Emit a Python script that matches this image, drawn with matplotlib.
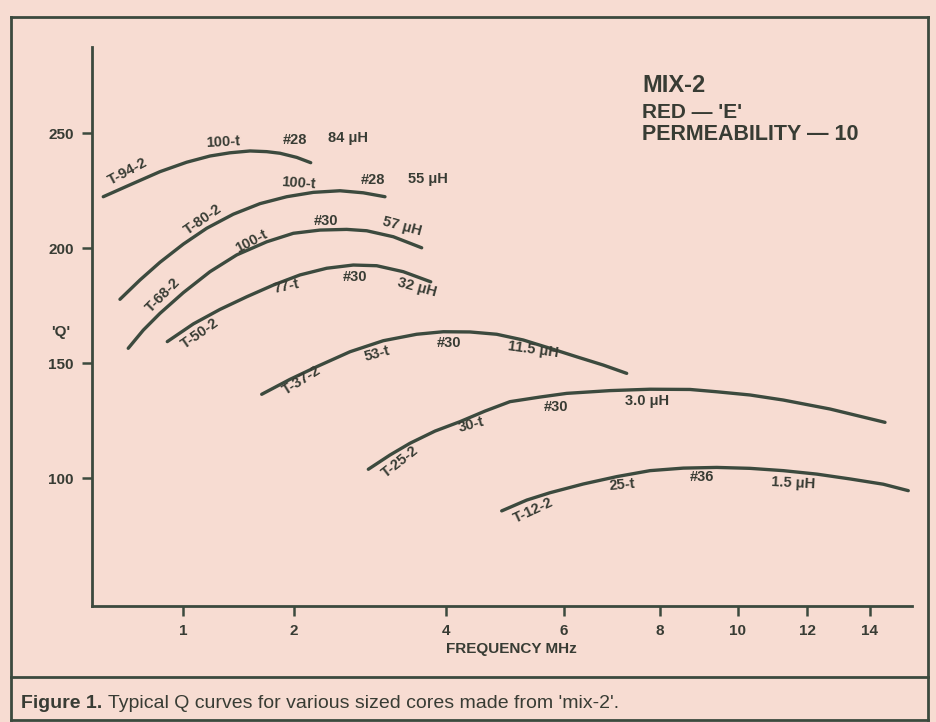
import numpy as np
import matplotlib
matplotlib.use("Agg")
import matplotlib.pyplot as plt
from matplotlib.lines import Line2D

# Q curves for mix-2 toroid cores (frequency in MHz, Q)
t94_f = [0.518, 0.690, 0.861, 1.033, 1.243, 1.423, 1.604, 1.754, 1.874, 2.036, 2.220]
t94_q = [222.3, 227.8, 233.2, 237.3, 240.0, 241.4, 242.2, 241.9, 241.2, 239.4, 237.1]

t80_f = [0.619, 0.740, 0.861, 1.003, 1.214, 1.453, 1.694, 1.934, 2.254, 2.605, 2.912, 3.197]
t80_q = [177.7, 186.1, 193.8, 201.7, 208.6, 214.7, 219.3, 222.3, 224.2, 224.9, 224.0, 222.3]

t68_f = [0.669, 0.760, 0.861, 1.003, 1.243, 1.484, 1.754, 1.994, 2.342, 2.693, 2.957, 3.307, 3.680]
t68_q = [156.4, 164.3, 171.6, 180.6, 189.7, 197.0, 202.7, 206.4, 207.8, 208.1, 207.5, 204.9, 200.1]

t50_f = [0.905, 1.093, 1.333, 1.574, 1.814, 2.079, 2.430, 2.780, 3.088, 3.438, 3.799]
t50_q = [159.3, 167.0, 173.3, 178.8, 183.9, 188.3, 191.2, 192.6, 192.3, 189.7, 185.3]

t37_f = [1.709, 1.964, 2.299, 2.737, 3.175, 3.614, 3.964, 4.407, 4.859, 5.310, 5.763, 6.265, 6.819, 7.306]
t37_q = [136.4, 142.9, 148.4, 154.9, 159.7, 162.5, 163.6, 163.5, 162.5, 160.0, 156.4, 152.7, 149.1, 145.5]

t25_f = [2.978, 3.263, 3.526, 3.855, 4.237, 4.661, 5.085, 5.593, 6.056, 6.958, 7.792, 8.769,
         9.454, 10.348, 11.313, 12.730, 14.475]
t25_q = [103.8, 110.0, 115.1, 120.4, 124.5, 129.1, 133.2, 135.2, 136.8, 138.0, 138.6, 138.5,
         137.5, 136.1, 133.9, 130.0, 124.2]

t12_f = [4.944, 5.368, 5.763, 6.402, 7.098, 7.792, 8.597, 9.454, 10.348, 11.313, 12.308,
         13.365, 14.421, 15.212]
t12_q = [85.7, 90.4, 93.6, 97.4, 100.6, 103.2, 104.3, 104.6, 104.2, 103.2, 101.7, 99.6, 97.3, 94.5]

x_ticks = [1, 2, 4, 6, 8, 10, 12, 14]
y_ticks = [100, 150, 200, 250]

# hand-drawn frequency axis: tick frequencies and where they sit along the axis
scale_f = [0.45, 1, 2, 4, 6, 8, 10, 12, 14, 15.33]
scale_p = [92, 183, 294, 446, 564, 660, 738, 807, 870, 912]


def fwd(f):
    return np.interp(f, scale_f, scale_p)


def inv(p):
    return np.interp(p, scale_p, scale_f)


# (text, freq, Q, rotation)
labels = [
    ("T-94-2", 0.669, 233.2, 28), ("100-t", 1.363, 246.2, 3), ("#28", 2.013, 247.0, 0),
    ("84 \u03bcH", 2.714, 247.7, 0),
    ("T-80-2", 1.183, 212.2, 35), ("100-t", 2.057, 228.1, -4), ("#28", 3.043, 229.6, 0),
    ("55 \u03bcH", 3.767, 229.9, 0),
    ("T-68-2", 0.881, 179.6, 45), ("100-t", 1.619, 202.7, 28), ("#30", 2.421, 211.9, 0),
    ("57 \u03bcH", 3.417, 209.6, -15),
    ("T-50-2", 1.153, 162.9, 35), ("77-t", 1.934, 183.2, 12), ("#30", 2.803, 187.5, 0),
    ("32 \u03bcH", 3.614, 182.9, -15),
    ("T-37-2", 2.101, 142.6, 32), ("53-t", 3.088, 154.2, 15), ("#30", 4.051, 158.8, 0),
    ("11.5 \u03bcH", 5.48, 155.7, -8),
    ("T-25-2", 3.395, 107.1, 38), ("30-t", 4.436, 123.0, 15), ("#30", 5.864, 131.0, 0),
    ("3.0 \u03bcH", 7.723, 133.5, 0),
    ("T-12-2", 5.48, 85.8, 25), ("25-t", 7.202, 96.9, 5), ("#36", 9.085, 100.6, 0),
    ("1.5 \u03bcH", 11.59, 97.7, -3),
]

bg = "#f7dcd2"
ink = "#3c4a3e"
txt = "#383c34"
plt.rcParams["font.family"] = ["Liberation Sans", "DejaVu Sans"]

W, H = 936, 722
fig = plt.figure(figsize=(W / 100, H / 100), dpi=100, facecolor=bg)

# axes box in pixel terms
left, right, top, bottom = 92, 912, 47, 606
ax = fig.add_axes([left / W, 1 - bottom / H, (right - left) / W, (bottom - top) / H])
ax.set_facecolor("none")
ax.set_xscale("function", functions=(fwd, inv))
ax.set_xlim(0.45, 15.33)
ax.set_ylim(44.35, 287.4)

for f, q in [(t94_f, t94_q), (t80_f, t80_q), (t68_f, t68_q), (t50_f, t50_q),
             (t37_f, t37_q), (t25_f, t25_q), (t12_f, t12_q)]:
    ax.plot(f, q, color=ink, lw=2.4, solid_capstyle="round", solid_joinstyle="round")

for s, f, q, rot in labels:
    ax.text(f, q, s, rotation=rot, rotation_mode="anchor", ha="center", va="center",
            fontsize=10.5, fontweight="bold", color=txt)

for side in ["top", "right"]:
    ax.spines[side].set_visible(False)
for side in ["left", "bottom"]:
    ax.spines[side].set_color(ink)
    ax.spines[side].set_linewidth(2)

ax.set_xticks(x_ticks)
ax.set_xticklabels([str(v) for v in x_ticks])
ax.set_yticks(y_ticks)
ax.set_yticklabels([str(v) for v in y_ticks])
ax.xaxis.set_minor_locator(matplotlib.ticker.NullLocator())
ax.tick_params(axis="both", direction="out", length=7, width=1.8, color=ink,
               labelsize=11, labelcolor=txt, pad=6)
for t in ax.get_xticklabels() + ax.get_yticklabels():
    t.set_fontweight("bold")

ax.set_xlabel("FREQUENCY MHz", fontsize=11, fontweight="bold", color=txt, va="center")
ax.xaxis.set_label_coords(0.512, -0.077)
ax.text(-0.038, 0.49, "'Q'", transform=ax.transAxes, fontsize=11, fontweight="bold",
        color=txt, ha="center", va="center")

# core mix legend
fx = lambda px: px / W
fy = lambda py: 1 - py / H
fig.text(fx(642), fy(86), "MIX-2", fontsize=17, fontweight="bold", color=txt, va="center")
fig.text(fx(642), fy(113), "RED \u2014 'E'", fontsize=15, fontweight="bold", color=txt,
         va="center")
fig.text(fx(642), fy(135), "PERMEABILITY \u2014 10", fontsize=15.5, fontweight="bold",
         color=txt, va="center")

# outer frame and caption panel
for xs, ys in [([11, 928], [17, 17]), ([11, 928], [720, 720]), ([11, 11], [17, 720]),
               ([928, 928], [17, 720]), ([11, 928], [677, 677])]:
    fig.add_artist(Line2D([fx(x) for x in xs], [fy(y) for y in ys], color=ink, lw=2))

cap = fig.text(fx(21), fy(703), "Figure 1.", fontsize=14, fontweight="bold", color=txt,
               va="center")
fig.add_artist(plt.Annotation("Typical Q curves for various sized cores made from 'mix-2'.",
                              xy=(1, 0.5), xycoords=cap, xytext=(4, 0),
                              textcoords="offset points", va="center", fontsize=14,
                              color=txt))

fig.savefig("out.png", dpi=100, facecolor=bg)
